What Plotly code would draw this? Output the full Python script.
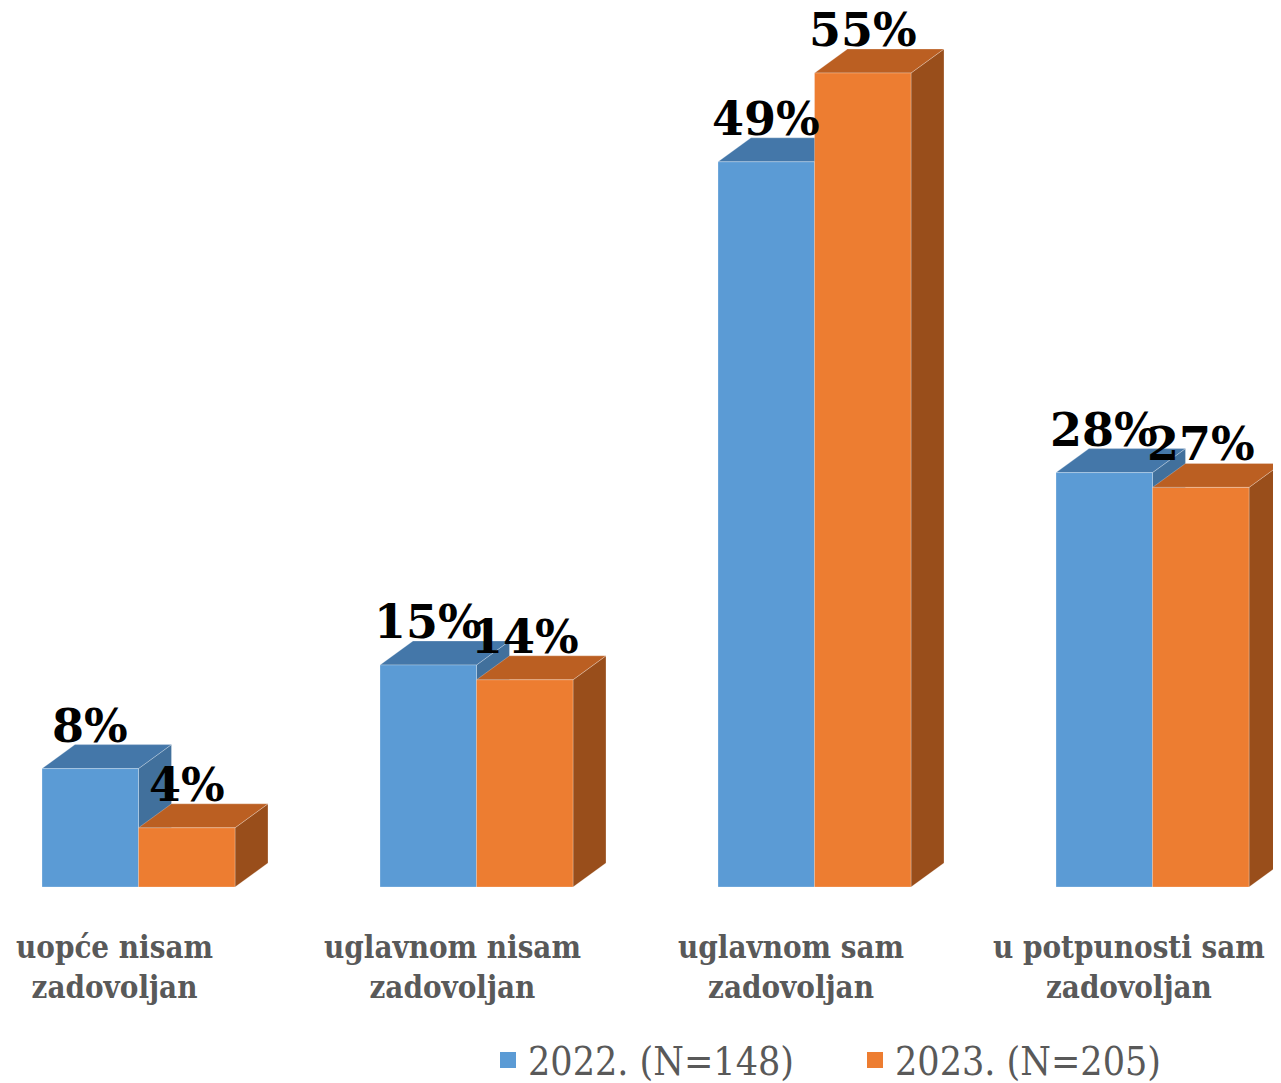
import plotly.graph_objects as go

categories = ["uopće nisam<br>zadovoljan", "uglavnom nisam<br>zadovoljan",
              "uglavnom sam<br>zadovoljan", "u potpunosti sam<br>zadovoljan"]
series_names = ["2022. (N=148)", "2023. (N=205)"]
values_2022 = [8, 15, 49, 28]
values_2023 = [4, 14, 55, 27]

# front, top, side colours per series
colors = [
    ("#5B9BD5", "#4477A9", "#41709C"),
    ("#ED7D31", "#BB5F22", "#994E1B"),
]

BAR_W = 0.2855   # width of one bar in category units
DX = 0.0976      # depth offset in x
DY = 1.62        # depth offset in y (percent units)
FONT = "DejaVu Serif Condensed, DejaVu Serif, serif"
W, H = 1265, 1075
X0_PX, BASE_PX, PX_PER_CAT, PX_PER_PCT = 130.5, 879, 338, 14.8

fig = go.Figure()


def polys(pts_list):
    xs, ys = [], []
    for pts in pts_list:
        for px, py in pts + [pts[0]]:
            xs.append(px)
            ys.append(py)
        xs.append(None)
        ys.append(None)
    return xs, ys


for s, vals in enumerate([values_2022, values_2023]):
    front_c, top_c, side_c = colors[s]
    fronts, tops, sides = [], [], []
    for i, v in enumerate(vals):
        x0 = i - BAR_W if s == 0 else i
        x1 = x0 + BAR_W
        fronts.append([(x0, 0), (x1, 0), (x1, v), (x0, v)])
        tops.append([(x0, v), (x1, v), (x1 + DX, v + DY), (x0 + DX, v + DY)])
        sides.append([(x1, 0), (x1 + DX, DY), (x1 + DX, v + DY), (x1, v)])
    for pl, c in [(sides, side_c), (tops, top_c), (fronts, front_c)]:
        xs, ys = polys(pl)
        fig.add_trace(go.Scatter(x=xs, y=ys, mode="lines", fill="toself",
                                 fillcolor=c, line=dict(color="rgba(255,255,255,0.25)", width=1),
                                 hoverinfo="skip", showlegend=False))
    # legend entry
    fig.add_trace(go.Scatter(x=[None], y=[None], mode="markers", name=series_names[s],
                             marker=dict(symbol="square", size=22, color=front_c)))

# data labels
for s, vals in enumerate([values_2022, values_2023]):
    for i, v in enumerate(vals):
        xc = i - BAR_W / 2 if s == 0 else i + BAR_W / 2
        fig.add_annotation(x=xc, y=v + DY, text=f"{v}%", showarrow=False,
                           yanchor="bottom", yshift=-10,
                           font=dict(family="DejaVu Serif, serif", size=46, color="#000000", weight="bold"))

# category labels
for i, c in enumerate(categories):
    fig.add_annotation(x=i - 0.07, y=0, xref="x", yref="y", text=c, showarrow=False,
                       yanchor="top", yshift=-40,
                       font=dict(family=FONT, size=31, color="#595959", weight="bold"))

fig.update_layout(
    width=W, height=H,
    margin=dict(l=0, r=0, t=0, b=H - BASE_PX, autoexpand=False),
    plot_bgcolor="white", paper_bgcolor="white",
    xaxis=dict(range=[-X0_PX / PX_PER_CAT, (W - X0_PX) / PX_PER_CAT], visible=False, fixedrange=True),
    yaxis=dict(range=[0, BASE_PX / PX_PER_PCT], visible=False, fixedrange=True),
    showlegend=True,
    legend=dict(orientation="h", x=480 / W, xanchor="left", y=-0.197, yanchor="middle",
                font=dict(family=FONT, size=39, color="#595959"),
                itemwidth=30, entrywidth=322, tracegroupgap=0),
)

fig.write_html("out.html")
